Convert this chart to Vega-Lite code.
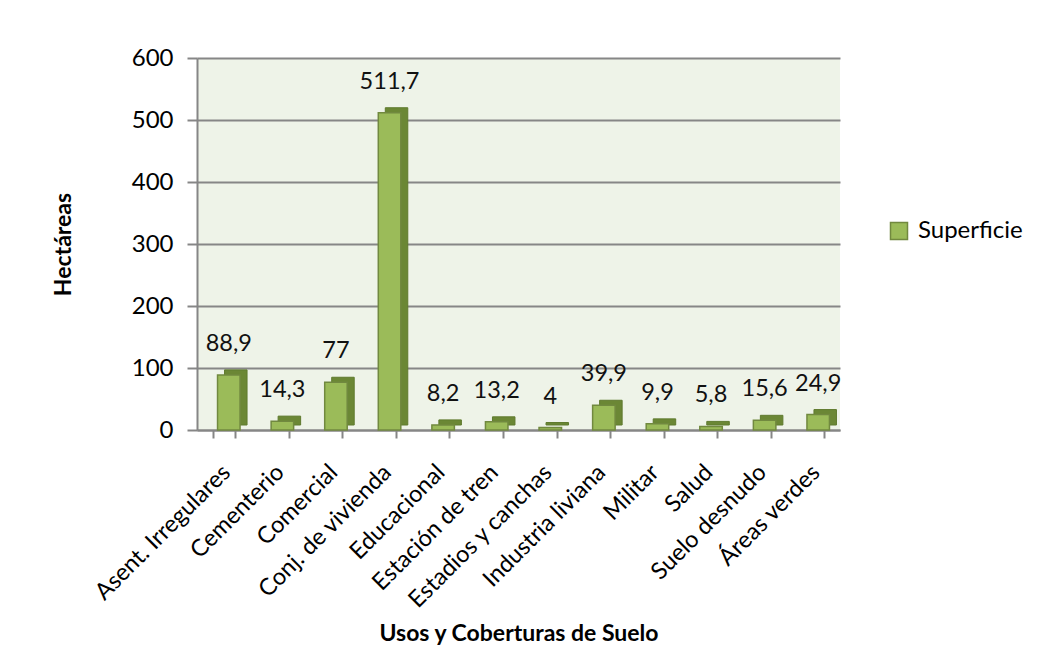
{
  "$schema": "https://vega.github.io/schema/vega-lite/v6.json",
  "width": 643,
  "height": 372,
  "autosize": "none",
  "padding": {"left": 197, "top": 58, "right": 208, "bottom": 224},
  "background": "white",
  "config": {
    "font": "Lato",
    "view": {"fill": "#eef3e8", "stroke": null}
  },
  "data": {
    "values": [
      {"uso": "Asent. Irregulares", "ha": 88.9, "label": "88,9", "serie": "Superficie"},
      {"uso": "Cementerio", "ha": 14.3, "label": "14,3", "serie": "Superficie"},
      {"uso": "Comercial", "ha": 77, "label": "77", "serie": "Superficie"},
      {"uso": "Conj. de vivienda", "ha": 511.7, "label": "511,7", "serie": "Superficie"},
      {"uso": "Educacional", "ha": 8.2, "label": "8,2", "serie": "Superficie"},
      {"uso": "Estación de tren", "ha": 13.2, "label": "13,2", "serie": "Superficie"},
      {"uso": "Estadios y canchas", "ha": 4, "label": "4", "serie": "Superficie"},
      {"uso": "Industria liviana", "ha": 39.9, "label": "39,9", "serie": "Superficie"},
      {"uso": "Militar", "ha": 9.9, "label": "9,9", "serie": "Superficie"},
      {"uso": "Salud", "ha": 5.8, "label": "5,8", "serie": "Superficie"},
      {"uso": "Suelo desnudo", "ha": 15.6, "label": "15,6", "serie": "Superficie"},
      {"uso": "Áreas verdes", "ha": 24.9, "label": "24,9", "serie": "Superficie"}
    ]
  },
  "encoding": {
    "x": {
      "field": "uso", "type": "nominal", "sort": null,
      "scale": {"paddingInner": 0.58, "paddingOuter": 0.29},
      "axis": {
        "title": "Usos y Coberturas de Suelo",
        "titleFontSize": 23, "titleFontWeight": "bold", "titleColor": "black",
        "titleY": 192, "titleBaseline": "top",
        "labelAngle": -45, "labelFontSize": 23.5, "labelColor": "black",
        "labelPadding": 22, "labelOffset": -6, "labelLimit": 400,
        "domainColor": "#868686", "domainWidth": 2,
        "tickColor": "#868686", "tickWidth": 2, "tickSize": 8,
        "tickBand": "extent"
      }
    },
    "y": {
      "field": "ha", "type": "quantitative",
      "scale": {"domain": [0, 600]},
      "axis": {
        "title": "Hectáreas",
        "titleFontSize": 23, "titleFontWeight": "bold", "titleColor": "black",
        "titlePadding": 56,
        "values": [0, 100, 200, 300, 400, 500, 600],
        "labelFontSize": 24, "labelColor": "black", "labelPadding": 14,
        "domainColor": "#868686", "domainWidth": 2,
        "tickColor": "#868686", "tickWidth": 2, "tickSize": 10,
        "gridColor": "#868686", "gridWidth": 2
      }
    }
  },
  "layer": [
    {
      "mark": {"type": "bar", "color": "#6b8735", "xOffset": 12, "yOffset": -5, "stroke": "#5f7a2e", "strokeWidth": 1}
    },
    {
      "mark": {"type": "bar", "xOffset": 5, "stroke": "#71893f", "strokeWidth": 1.5},
      "encoding": {
        "color": {
          "field": "serie", "type": "nominal",
          "scale": {"range": ["#9bbb59"]},
          "legend": {
            "title": null, "orient": "none", "legendX": 690, "legendY": 161,
            "symbolType": "square", "symbolSize": 289, "symbolStrokeColor": "#71893f",
            "symbolStrokeWidth": 1.5, "labelFontSize": 24, "labelColor": "black",
            "labelOffset": 7
          }
        }
      }
    },
    {
      "mark": {"type": "text", "xOffset": 5, "dy": -31, "baseline": "middle", "fontSize": 23.5, "color": "#111"},
      "encoding": {"text": {"field": "label"}}
    }
  ]
}
